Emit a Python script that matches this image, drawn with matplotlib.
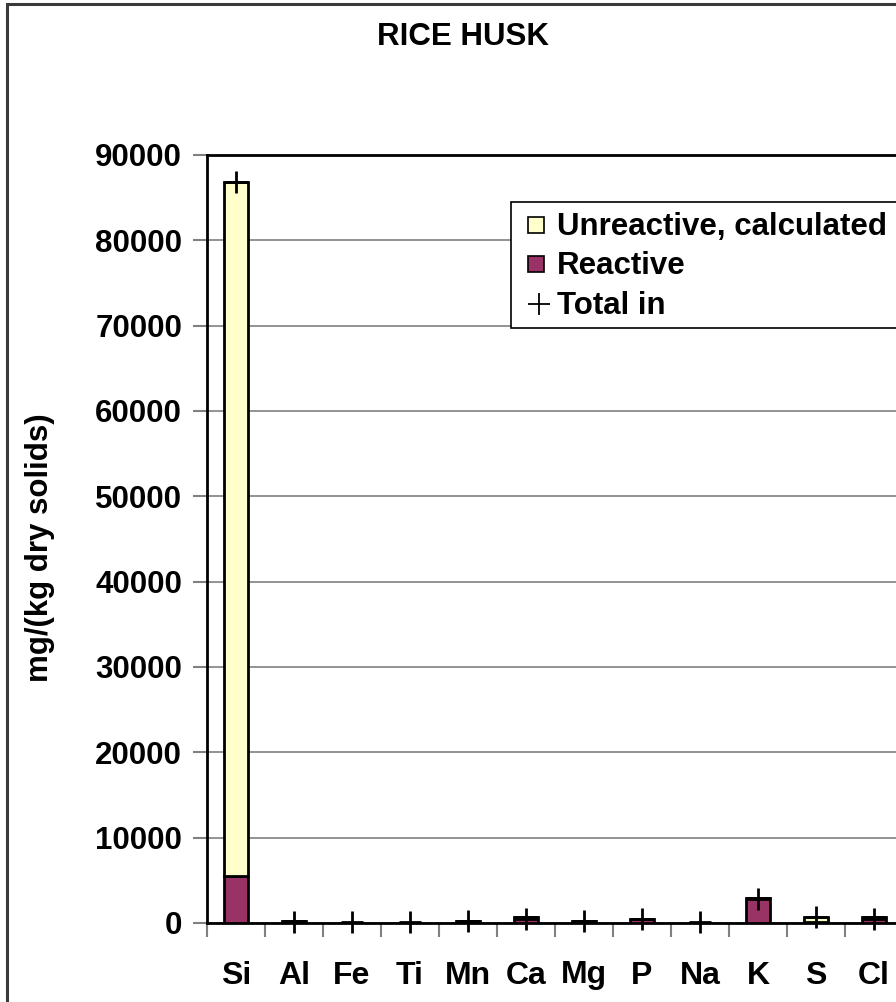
import numpy as np
import matplotlib
matplotlib.use("Agg")
import matplotlib.pyplot as plt
from matplotlib.patches import Rectangle
from matplotlib.lines import Line2D

plt.rcParams['font.family'] = ['Liberation Sans', 'DejaVu Sans']
plt.rcParams['font.weight'] = 'bold'

elements = ["Si", "Al", "Fe", "Ti", "Mn", "Ca", "Mg", "P", "Na", "K", "S", "Cl"]
reactive = [5540, 250, 0, 0, 250, 740, 250, 500, 0, 2900, 120, 740]
unreactive = [81300, 0, 0, 0, 0, 0, 0, 0, 0, 0, 620, 0]
total_in = [86840, 150, 60, 60, 200, 430, 200, 430, 60, 2870, 650, 430]

legend_labels = ["Unreactive, calculated", "Reactive", "Total in"]
YELLOW = "#FFFFCC"
PLUM = "#993366"

W, H = 896, 1002
fig = plt.figure(figsize=(W / 100, H / 100), dpi=100)


def fx(px):
    return px / W


def fy(py):
    return 1 - py / H


# outer chart frame (its right and bottom edges run past the image)
fig.patches.append(Rectangle((fx(7), -0.2), 1.2, fy(4) + 0.2, transform=fig.transFigure,
                             fill=False, edgecolor="#3a3a3a", lw=2.2, zorder=0))

ax = fig.add_axes([fx(207), fy(923), (903 - 207) / W, (923 - 155) / H])

x = np.arange(len(elements))
bw = 0.42
ax.bar(x, reactive, bw, color=PLUM, edgecolor="black", lw=2, zorder=3)
ax.bar(x, unreactive, bw, bottom=reactive, color=YELLOW, edgecolor="black", lw=2, zorder=3)
ax.plot(x, total_in, ls="none", marker="+", ms=16.5, mew=2, color="black", zorder=4,
        clip_on=False)

ax.set_xlim(-0.5, len(elements) - 0.5)
ax.set_ylim(0, 90000)
ax.set_yticks(np.arange(0, 90001, 10000))
ax.yaxis.grid(True, color="#808080", lw=1.2, zorder=0)
ax.set_axisbelow(True)

ax.set_xticks(x)
ax.set_xticklabels(elements, fontsize=23, fontweight="bold")
ax.set_xticks(np.arange(-0.5, len(elements), 1), minor=True)
ax.tick_params(axis="x", which="major", length=0, pad=27)
ax.tick_params(axis="x", which="minor", length=10, width=1.5, color="#808080", direction="out")
ax.tick_params(axis="y", length=10, width=1.5, color="#808080", direction="out",
               labelsize=22.5, pad=8)
for lab in ax.get_yticklabels():
    lab.set_fontweight("bold")

for side in ("left", "top", "bottom"):
    ax.spines[side].set_color("black")
    ax.spines[side].set_linewidth(2)
ax.spines["right"].set_visible(False)

fig.text(fx(40), fy(548), "mg/(kg dry solids)", fontsize=22.5, fontweight="bold",
         rotation=90, ha="center", va="center")

fig.text(fx(463), fy(37), "RICE HUSK", fontsize=22.5, fontweight="bold",
         ha="center", va="center")

# legend box, drawn by hand so that it can run off the right edge
fig.patches.append(Rectangle((fx(511), fy(328)), 0.5, (328 - 202) / H,
                             transform=fig.transFigure, facecolor="white",
                             edgecolor="black", lw=1.2, zorder=5))
rows = [225, 264, 304]
for i, (label, yc) in enumerate(zip(legend_labels, rows)):
    if i < 2:
        fig.patches.append(Rectangle((fx(528), fy(yc + 8)), 16 / W, 16 / H,
                                     transform=fig.transFigure,
                                     facecolor=[YELLOW, PLUM][i],
                                     edgecolor="black", lw=1.2, zorder=6))
    else:
        fig.add_artist(Line2D([fx(539)], [fy(yc)], ls="none", marker="+", ms=16.5,
                              mew=1.3, color="black", transform=fig.transFigure,
                              zorder=6))
    fig.text(fx(557), fy(yc + 10), label, fontsize=22.5, fontweight="bold",
             ha="left", va="baseline", zorder=7)

fig.savefig("out.png", dpi=100)
